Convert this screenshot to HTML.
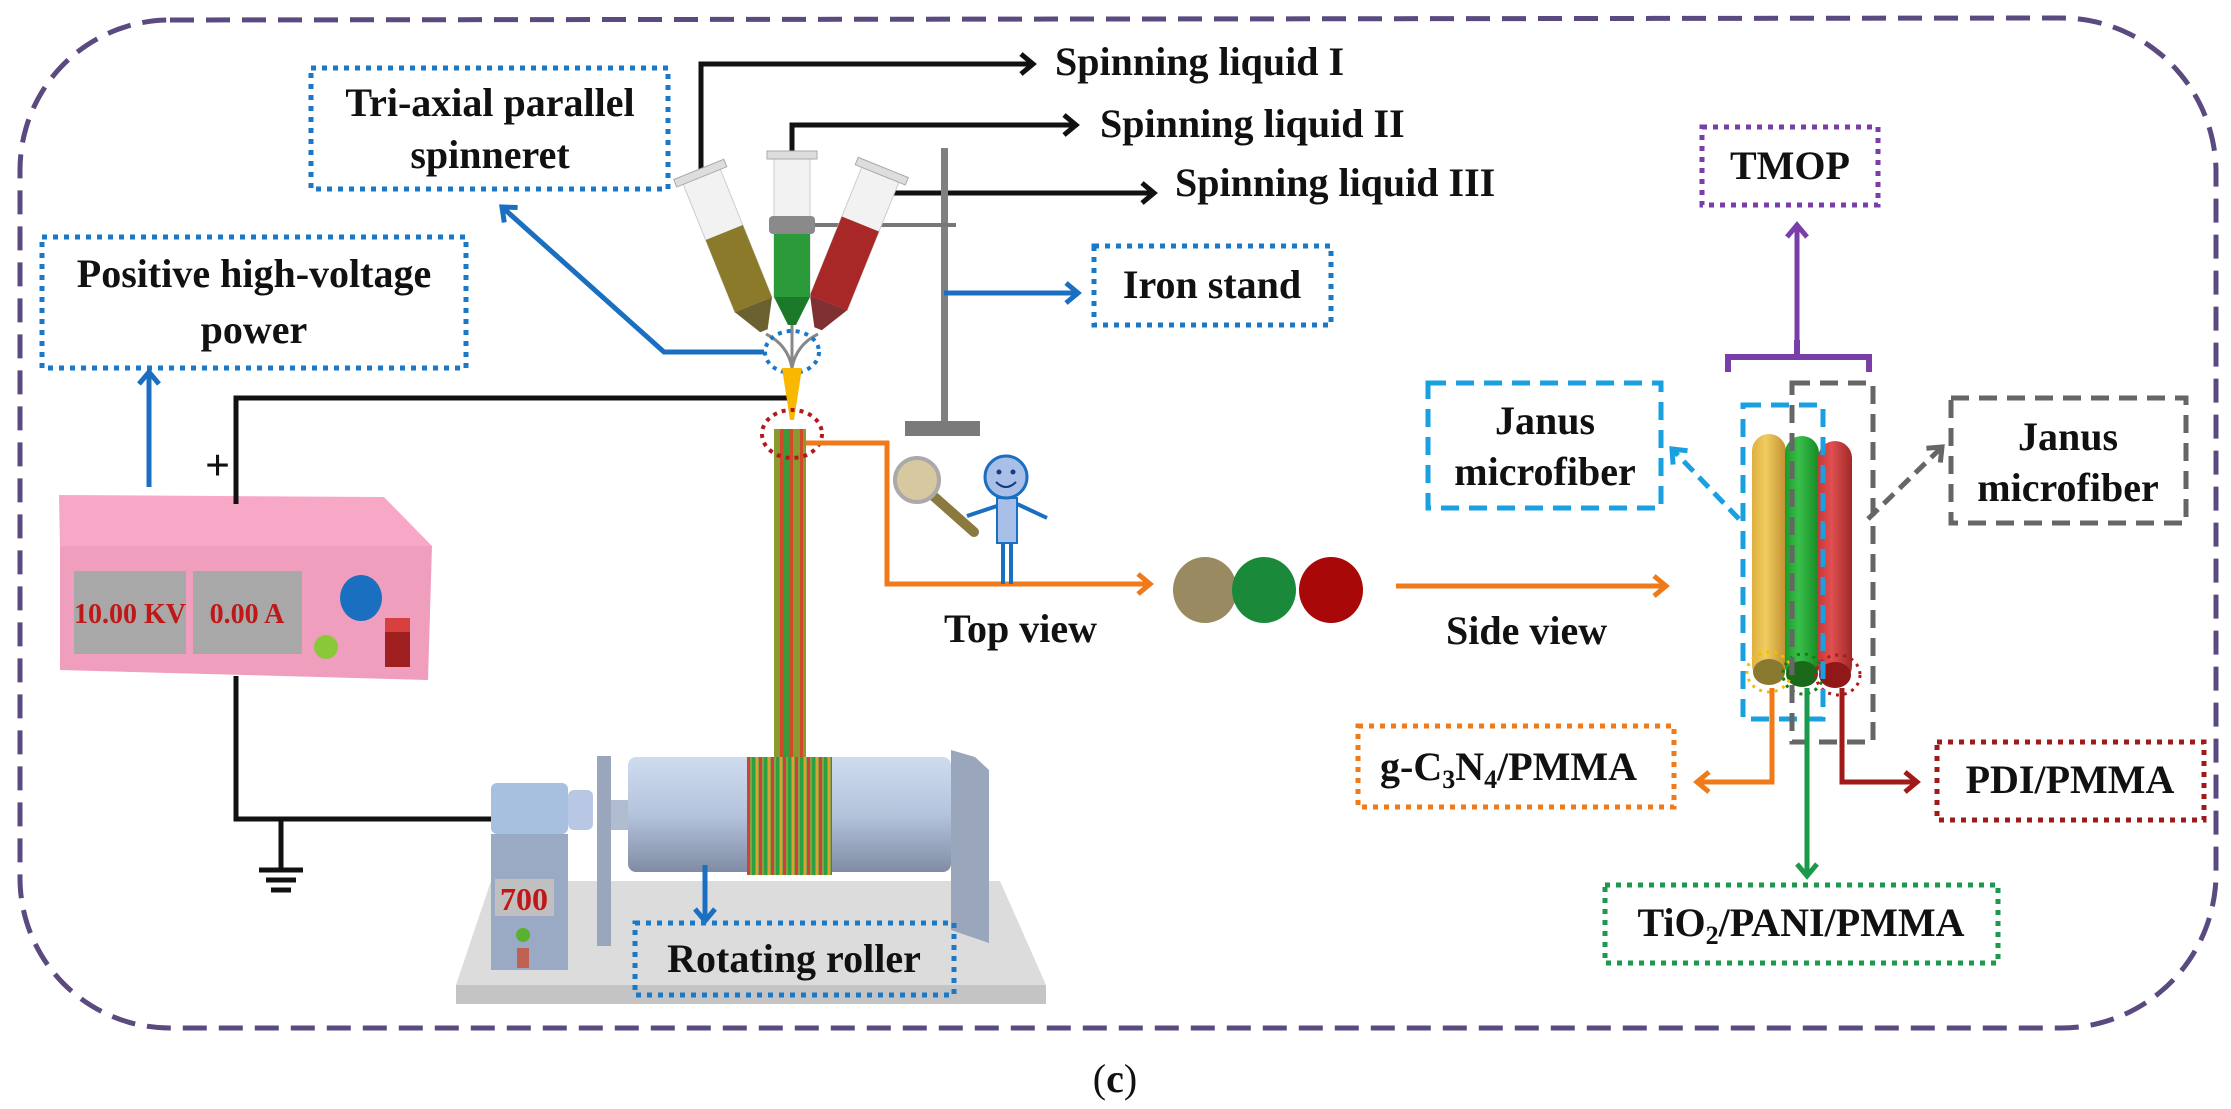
<!DOCTYPE html>
<html><head><meta charset="utf-8"><style>
html,body{margin:0;padding:0;background:#fff;}
svg{display:block;}
text{font-family:"Liberation Serif",serif;font-weight:bold;fill:#111;}
</style></head><body>
<svg width="2231" height="1109" viewBox="0 0 2231 1109" xmlns="http://www.w3.org/2000/svg">
<defs>
<marker id="mk" viewBox="-4 -4 22 28" refX="12" refY="10" markerWidth="22" markerHeight="28" markerUnits="userSpaceOnUse" orient="auto"><path d="M0,0 L12,10 L0,20" fill="none" stroke="#111" stroke-width="5"/></marker>
<marker id="mb" viewBox="-4 -4 22 28" refX="12" refY="10" markerWidth="22" markerHeight="28" markerUnits="userSpaceOnUse" orient="auto"><path d="M0,0 L12,10 L0,20" fill="none" stroke="#1a6fc0" stroke-width="5"/></marker>
<marker id="mo" viewBox="-4 -4 22 28" refX="12" refY="10" markerWidth="22" markerHeight="28" markerUnits="userSpaceOnUse" orient="auto"><path d="M0,0 L12,10 L0,20" fill="none" stroke="#f07a1a" stroke-width="5"/></marker>
<marker id="mp" viewBox="-4 -4 22 28" refX="12" refY="10" markerWidth="22" markerHeight="28" markerUnits="userSpaceOnUse" orient="auto"><path d="M0,0 L12,10 L0,20" fill="none" stroke="#7a3ea8" stroke-width="5"/></marker>
<marker id="mg" viewBox="-4 -4 22 28" refX="12" refY="10" markerWidth="22" markerHeight="28" markerUnits="userSpaceOnUse" orient="auto"><path d="M0,0 L12,10 L0,20" fill="none" stroke="#1a9a4a" stroke-width="5"/></marker>
<marker id="mr" viewBox="-4 -4 22 28" refX="12" refY="10" markerWidth="22" markerHeight="28" markerUnits="userSpaceOnUse" orient="auto"><path d="M0,0 L12,10 L0,20" fill="none" stroke="#a01a1a" stroke-width="5"/></marker>
<marker id="mc" viewBox="-4 -4 22 28" refX="12" refY="10" markerWidth="22" markerHeight="28" markerUnits="userSpaceOnUse" orient="auto"><path d="M0,0 L12,10 L0,20" fill="none" stroke="#1aa0e0" stroke-width="5"/></marker>
<marker id="my" viewBox="-4 -4 22 28" refX="12" refY="10" markerWidth="22" markerHeight="28" markerUnits="userSpaceOnUse" orient="auto"><path d="M0,0 L12,10 L0,20" fill="none" stroke="#666" stroke-width="5"/></marker>
<linearGradient id="roll" x1="0" y1="0" x2="0" y2="1"><stop offset="0" stop-color="#cfdcef"/><stop offset="0.5" stop-color="#b4c4dc"/><stop offset="1" stop-color="#7f8ca4"/></linearGradient>
<linearGradient id="fy" x1="0" y1="0" x2="1" y2="0"><stop offset="0" stop-color="#e0b040"/><stop offset="0.4" stop-color="#f0cc60"/><stop offset="1" stop-color="#c09030"/></linearGradient>
<linearGradient id="fg" x1="0" y1="0" x2="1" y2="0"><stop offset="0" stop-color="#1a9a2a"/><stop offset="0.4" stop-color="#3ac04a"/><stop offset="1" stop-color="#168a24"/></linearGradient>
<linearGradient id="fr" x1="0" y1="0" x2="1" y2="0"><stop offset="0" stop-color="#c83838"/><stop offset="0.4" stop-color="#e05050"/><stop offset="1" stop-color="#a02828"/></linearGradient>
<pattern id="wind" x="747" y="0" width="12" height="10" patternUnits="userSpaceOnUse"><rect width="12" height="10" fill="#8aa040"/><rect x="0" width="3" height="10" fill="#d04040"/><rect x="5" width="3" height="10" fill="#2aa040"/><rect x="9" width="2" height="10" fill="#e0a030"/></pattern>
</defs>

<!-- outer border -->
<path d="M170,20 L2060,18 A155,155 0 0 1 2216,170 L2216,875 A155,155 0 0 1 2060,1028 L170,1028 A150,150 0 0 1 20,878 L20,170 A150,150 0 0 1 170,20 Z" fill="none" stroke="#5b4a7f" stroke-width="5" stroke-dasharray="24 12"/>

<!-- Tri-axial box -->
<rect x="311" y="68" width="357" height="121" fill="none" stroke="#1a78c8" stroke-width="5" stroke-dasharray="5 6"/>
<text x="490" y="116" font-size="40" text-anchor="middle">Tri-axial parallel</text>
<text x="490" y="168" font-size="40" text-anchor="middle">spinneret</text>

<!-- Positive box -->
<rect x="42" y="237" width="424" height="131" fill="none" stroke="#1a78c8" stroke-width="5" stroke-dasharray="5 6"/>
<text x="254" y="287" font-size="40" text-anchor="middle">Positive high-voltage</text>
<text x="254" y="343" font-size="40" text-anchor="middle">power</text>
<line x1="149" y1="487" x2="149" y2="372" stroke="#1a6fc0" stroke-width="5" marker-end="url(#mb)"/>

<!-- power supply -->
<polygon points="59,495 384,497 432,546 60,546" fill="#f7a8c6"/>
<polygon points="60,546 432,546 428,680 60,670" fill="#f09ebd"/>
<rect x="74" y="571" width="112" height="83" fill="#a8a8a8"/>
<rect x="193" y="571" width="109" height="83" fill="#a8a8a8"/>
<text x="130" y="623" font-size="28" fill="#c01818" style="fill:#c01818" text-anchor="middle">10.00 KV</text>
<text x="247" y="623" font-size="28" style="fill:#c01818" text-anchor="middle">0.00 A</text>
<ellipse cx="361" cy="598" rx="21" ry="23" fill="#1a6fc0"/>
<circle cx="326" cy="647" r="12" fill="#8ac83a"/>
<rect x="385" y="618" width="25" height="49" fill="#a02020"/>
<rect x="385" y="618" width="25" height="14" fill="#d84040"/>
<text x="205" y="480" font-size="44">+</text>

<!-- wires -->
<polyline points="236,504 236,398 790,398" fill="none" stroke="#111" stroke-width="5"/>
<polyline points="236,676 236,819 491,819" fill="none" stroke="#111" stroke-width="5"/>
<line x1="281" y1="819" x2="281" y2="870" stroke="#111" stroke-width="5"/>
<line x1="259" y1="870" x2="303" y2="870" stroke="#111" stroke-width="5"/>
<line x1="266" y1="880" x2="296" y2="880" stroke="#111" stroke-width="5"/>
<line x1="271" y1="890" x2="291" y2="890" stroke="#111" stroke-width="5"/>

<!-- spinning liquid lines -->
<polyline points="701,175 701,64 1033,64" fill="none" stroke="#111" stroke-width="5" marker-end="url(#mk)"/>
<polyline points="792,157 792,125 1076,125" fill="none" stroke="#111" stroke-width="5" marker-end="url(#mk)"/>
<polyline points="887,193 1154,193" fill="none" stroke="#111" stroke-width="5" marker-end="url(#mk)"/>
<text x="1055" y="75" font-size="40">Spinning liquid I</text>
<text x="1100" y="137" font-size="40">Spinning liquid II</text>
<text x="1175" y="196" font-size="40">Spinning liquid III</text>

<!-- iron stand -->
<rect x="941" y="148" width="7" height="277" fill="#808080"/>
<rect x="905" y="421" width="75" height="15" fill="#7a7a7a"/>
<line x1="800" y1="225" x2="956" y2="225" stroke="#777" stroke-width="4"/>
<line x1="944" y1="293" x2="1078" y2="293" stroke="#1a6fc0" stroke-width="5" marker-end="url(#mb)"/>
<rect x="1094" y="246" width="237" height="79" fill="none" stroke="#1a78c8" stroke-width="5" stroke-dasharray="5 6"/>
<text x="1212" y="298" font-size="40" text-anchor="middle">Iron stand</text>

<!-- syringes -->
<g transform="translate(701,175) rotate(-22)">
<rect x="-20" y="0" width="40" height="140" fill="#f2f2f2" stroke="#ccc" stroke-width="1"/>
<rect x="-20" y="62" width="40" height="78" fill="#8a7a2a"/>
<polygon points="-20,140 20,140 4,168 -4,168" fill="#6a6030"/>
<rect x="-27" y="-6" width="54" height="8" fill="#ddd" stroke="#aaa"/>
</g>
<g transform="translate(881,173) rotate(22)">
<rect x="-20" y="0" width="40" height="140" fill="#f2f2f2" stroke="#ccc" stroke-width="1"/>
<rect x="-20" y="55" width="40" height="85" fill="#a82828"/>
<polygon points="-20,140 20,140 4,168 -4,168" fill="#803030"/>
<rect x="-27" y="-6" width="54" height="8" fill="#ddd" stroke="#aaa"/>
</g>
<g transform="translate(792,157)">
<rect x="-18" y="0" width="36" height="140" fill="#f2f2f2" stroke="#ccc" stroke-width="1"/>
<rect x="-18" y="64" width="36" height="76" fill="#2a9a3a"/>
<polygon points="-18,140 18,140 4,168 -4,168" fill="#1a7a2a"/>
<rect x="-25" y="-6" width="50" height="8" fill="#ddd" stroke="#aaa"/>
</g>
<rect x="769" y="216" width="46" height="18" rx="4" fill="#8a8a8a"/>
<path d="M766,334 Q788,345 792,368 M818,334 Q796,345 792,368 M792,325 L792,368" fill="none" stroke="#888" stroke-width="3"/>
<ellipse cx="792" cy="352" rx="27" ry="21" fill="none" stroke="#1a78c8" stroke-width="4" stroke-dasharray="4 5"/>
<polyline points="764,352 664,352 502,207" fill="none" stroke="#1a6fc0" stroke-width="5" marker-end="url(#mb)"/>

<!-- jet -->
<polygon points="782,368 802,368 794,420 790,420" fill="#f8b800"/>

<!-- bundle -->
<rect x="774" y="429" width="32" height="330" fill="#8a9a30"/>
<rect x="780" y="429" width="3" height="330" fill="#d04a2a"/>
<rect x="783" y="429" width="7" height="330" fill="#3a9a3a"/>
<rect x="790" y="429" width="3" height="330" fill="#d04a2a"/>
<rect x="800" y="429" width="3" height="330" fill="#d04a2a"/>
<ellipse cx="792" cy="434" rx="30" ry="24" fill="none" stroke="#b01a1a" stroke-width="4" stroke-dasharray="4 5"/>

<!-- orange path -->
<polyline points="806,443 887,443 887,584 1150,584" fill="none" stroke="#f07a1a" stroke-width="5" marker-end="url(#mo)"/>

<!-- magnifier & person -->
<line x1="930" y1="493" x2="974" y2="532" stroke="#8a7a40" stroke-width="10" stroke-linecap="round"/>
<circle cx="917" cy="480" r="22" fill="#d8c8a0" stroke="#aaa" stroke-width="4"/>
<line x1="1000" y1="505" x2="967" y2="516" stroke="#1a6fc0" stroke-width="4"/>
<line x1="1015" y1="503" x2="1047" y2="518" stroke="#1a6fc0" stroke-width="4"/>
<line x1="1003" y1="540" x2="1003" y2="584" stroke="#1a6fc0" stroke-width="4"/>
<line x1="1011" y1="540" x2="1011" y2="584" stroke="#1a6fc0" stroke-width="4"/>
<rect x="997" y="498" width="20" height="45" fill="#a8c0e8" stroke="#1a6fc0" stroke-width="2"/>
<circle cx="1006" cy="477" r="21" fill="#a8c0e8" stroke="#1a6fc0" stroke-width="3"/>
<circle cx="999" cy="472" r="2.5" fill="#1a3a80"/><circle cx="1013" cy="472" r="2.5" fill="#1a3a80"/>
<path d="M996,482 Q1006,492 1016,482" fill="none" stroke="#1a3a80" stroke-width="2"/>
<text x="944" y="642" font-size="40">Top view</text>

<!-- circles -->
<ellipse cx="1205" cy="590" rx="32" ry="33" fill="#9a8a62"/>
<ellipse cx="1264" cy="590" rx="32" ry="33" fill="#1a8a3a"/>
<ellipse cx="1331" cy="590" rx="32" ry="33" fill="#a80808"/>
<line x1="1396" y1="586" x2="1666" y2="586" stroke="#f07a1a" stroke-width="5" marker-end="url(#mo)"/>
<text x="1446" y="644" font-size="40">Side view</text>

<!-- roller setup -->
<polygon points="491,881 1000,881 1046,985 456,985" fill="#dcdcdc"/>
<rect x="456" y="985" width="590" height="19" fill="#c4c4c4"/>
<rect x="491" y="834" width="77" height="136" fill="#9aaac4"/>
<rect x="491" y="783" width="77" height="51" rx="6" fill="#a8c0e0"/>
<rect x="568" y="790" width="25" height="40" rx="6" fill="#b8c8e4"/>
<rect x="495" y="879" width="59" height="37" fill="#c0c0c0"/>
<text x="524" y="910" font-size="32" style="fill:#c01818" text-anchor="middle">700</text>
<circle cx="523" cy="935" r="7" fill="#5ab030"/>
<rect x="517" y="948" width="12" height="20" fill="#c06050"/>
<rect x="597" y="756" width="14" height="190" fill="#9aa6bc"/>
<rect x="611" y="800" width="20" height="30" fill="#b0bcd0"/>
<rect x="628" y="757" width="323" height="115" rx="8" fill="url(#roll)"/>
<rect x="747" y="757" width="85" height="118" fill="url(#wind)"/>
<polygon points="951,750 975,757 989,770 989,943 951,930" fill="#9aa6bc"/>
<line x1="705" y1="865" x2="705" y2="921" stroke="#1a6fc0" stroke-width="5" marker-end="url(#mb)"/>
<rect x="635" y="923" width="319" height="72" fill="none" stroke="#1a78c8" stroke-width="5" stroke-dasharray="5 6"/>
<text x="794" y="972" font-size="40" text-anchor="middle">Rotating roller</text>

<!-- TMOP -->
<rect x="1702" y="127" width="176" height="78" fill="none" stroke="#7a3ea8" stroke-width="5" stroke-dasharray="5 6"/>
<text x="1790" y="179" font-size="40" text-anchor="middle">TMOP</text>
<line x1="1797" y1="340" x2="1797" y2="225" stroke="#7a3ea8" stroke-width="5" marker-end="url(#mp)"/>
<path d="M1728,372 L1728,357 L1869,357 L1869,372 M1797,357 L1797,340" fill="none" stroke="#7a3ea8" stroke-width="6"/>

<!-- fibers -->
<rect x="1752" y="434" width="34" height="248" rx="17" fill="url(#fy)"/>
<rect x="1785" y="436" width="34" height="246" rx="17" fill="url(#fg)"/>
<rect x="1818" y="441" width="34" height="242" rx="17" fill="url(#fr)"/>
<ellipse cx="1769" cy="672" rx="16" ry="13" fill="#8a7a30"/>
<ellipse cx="1802" cy="674" rx="16" ry="13" fill="#1a6a1a"/>
<ellipse cx="1835" cy="675" rx="16" ry="13" fill="#901818"/>
<ellipse cx="1769" cy="672" rx="22" ry="20" fill="none" stroke="#f0c000" stroke-width="3" stroke-dasharray="3 5"/>
<ellipse cx="1803" cy="674" rx="20" ry="20" fill="none" stroke="#1a7a1a" stroke-width="3" stroke-dasharray="3 5"/>
<ellipse cx="1838" cy="675" rx="22" ry="20" fill="none" stroke="#b01a1a" stroke-width="3" stroke-dasharray="3 5"/>
<rect x="1743" y="405" width="80" height="314" fill="none" stroke="#1aa0e0" stroke-width="5" stroke-dasharray="18 10"/>
<rect x="1792" y="383" width="81" height="359" fill="none" stroke="#666" stroke-width="5" stroke-dasharray="18 10"/>

<!-- Janus boxes -->
<rect x="1428" y="383" width="233" height="125" fill="none" stroke="#1aa0e0" stroke-width="5" stroke-dasharray="18 10"/>
<text x="1545" y="434" font-size="40" text-anchor="middle">Janus</text>
<text x="1545" y="485" font-size="40" text-anchor="middle">microfiber</text>
<line x1="1739" y1="519" x2="1672" y2="449" stroke="#1aa0e0" stroke-width="5" stroke-dasharray="14 8" marker-end="url(#mc)"/>
<rect x="1951" y="398" width="235" height="125" fill="none" stroke="#666" stroke-width="5" stroke-dasharray="18 10"/>
<text x="2068" y="450" font-size="40" text-anchor="middle">Janus</text>
<text x="2068" y="501" font-size="40" text-anchor="middle">microfiber</text>
<line x1="1868" y1="519" x2="1942" y2="447" stroke="#666" stroke-width="5" stroke-dasharray="14 8" marker-end="url(#my)"/>

<!-- bottom labels -->
<polyline points="1772,688 1772,782 1697,782" fill="none" stroke="#f07a1a" stroke-width="5" marker-end="url(#mo)"/>
<rect x="1358" y="726" width="316" height="81" fill="none" stroke="#f07a1a" stroke-width="5" stroke-dasharray="5 6"/>
<text x="1380" y="780" font-size="40">g-C<tspan font-size="26" dy="8">3</tspan><tspan dy="-8">N</tspan><tspan font-size="26" dy="8">4</tspan><tspan dy="-8">/PMMA</tspan></text>
<line x1="1807" y1="688" x2="1807" y2="876" stroke="#1a9a4a" stroke-width="5" marker-end="url(#mg)"/>
<rect x="1605" y="885" width="393" height="78" fill="none" stroke="#1a9a4a" stroke-width="5" stroke-dasharray="5 6"/>
<text x="1801" y="936" font-size="40" text-anchor="middle">TiO<tspan font-size="26" dy="8">2</tspan><tspan dy="-8">/PANI/PMMA</tspan></text>
<polyline points="1842,688 1842,782 1917,782" fill="none" stroke="#a01a1a" stroke-width="5" marker-end="url(#mr)"/>
<rect x="1937" y="742" width="267" height="78" fill="none" stroke="#a01a1a" stroke-width="5" stroke-dasharray="5 6"/>
<text x="2070" y="793" font-size="40" text-anchor="middle">PDI/PMMA</text>

<!-- caption -->
<text x="1115" y="1092" font-size="40" font-weight="normal" text-anchor="middle" style="font-weight:normal">(<tspan font-weight="bold">c</tspan>)</text>
</svg>
</body></html>
